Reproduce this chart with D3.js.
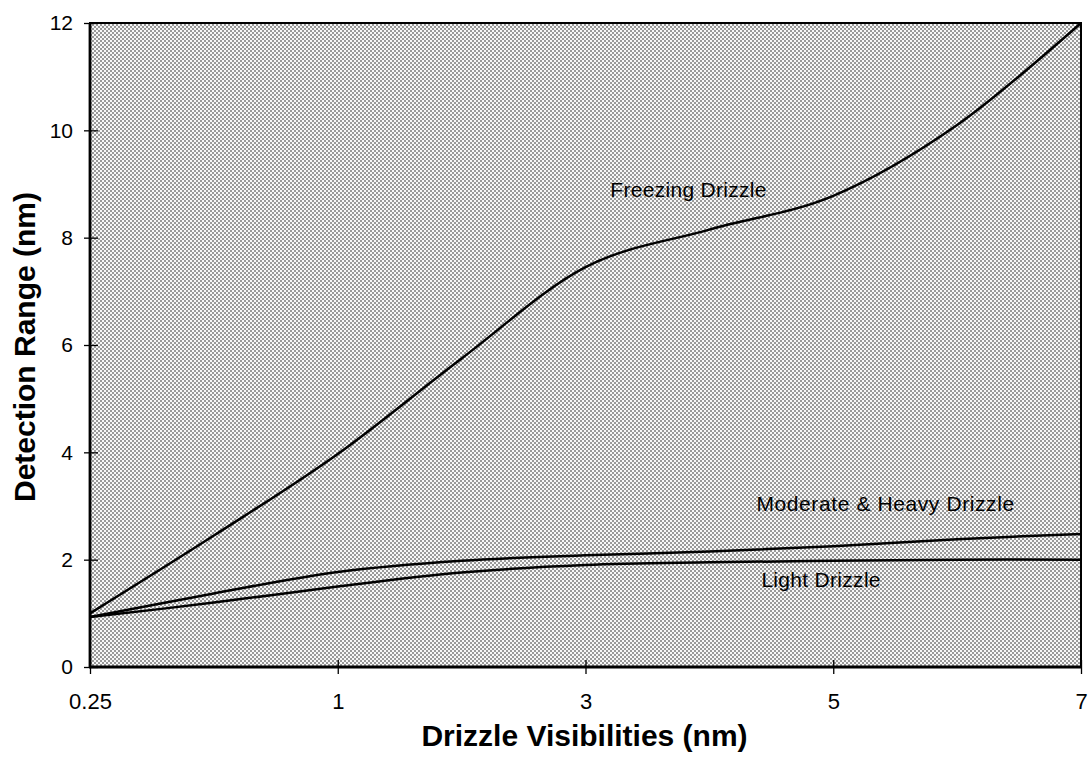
<!DOCTYPE html>
<html>
<head>
<meta charset="utf-8">
<script src="https://cdn.jsdelivr.net/npm/d3@7"></script>
<style>
  html, body { margin: 0; padding: 0; background: #fff; }
  svg { display: block; font-family: "Liberation Sans", Arial, sans-serif; }
</style>
</head>
<body>
<svg id="chart" width="1088" height="757"></svg>
<script>
// ---- data ----
const categories = ["0.25", "0.5", "1", "2", "3", "4", "5", "6", "7"];
const tickLabels = ["0.25", "1", "3", "5", "7"];
const yTicks = [0, 2, 4, 6, 8, 10, 12];
const freezing = [1.0, 2.45, 3.97, 5.75, 7.45, 8.15, 8.78, 10.1, 12.0];
const moderateHeavy = [0.93, 1.37, 1.77, 1.98, 2.08, 2.15, 2.25, 2.38, 2.48];
const light = [0.93, 1.2, 1.5, 1.76, 1.9, 1.95, 1.98, 2.0, 2.0];
const seriesNames = ["Freezing Drizzle", "Moderate & Heavy Drizzle", "Light Drizzle"];
// label anchors: [category index position, value]
const labelAnchors = [[4.2, 8.76], [5.38, 2.9], [5.42, 1.5]];

(function () {
// ---- layout ----
const svg = d3.select("#chart");
const mL = 90, mR = 1081, mT = 23, mB = 667;

const x = d3.scalePoint().domain(categories).range([mL, mR]).padding(0);
const xi = d3.scaleLinear().domain([0, categories.length - 1]).range([mL, mR]);
const y = d3.scaleLinear().domain([0, 12]).range([mB, mT]);

// dotted halftone background pattern
const defs = svg.append("defs");
const pat = defs.append("pattern")
  .attr("id", "dots").attr("patternUnits", "userSpaceOnUse")
  .attr("width", 4).attr("height", 4);
pat.append("rect").attr("width", 4).attr("height", 4).attr("fill", "#f7f7f7");
pat.append("rect").attr("x", 0).attr("y", 0).attr("width", 2).attr("height", 2).attr("fill", "#999999");
pat.append("rect").attr("x", 2).attr("y", 2).attr("width", 2).attr("height", 2).attr("fill", "#999999");

svg.append("rect")
  .attr("x", mL).attr("y", mT)
  .attr("width", mR - mL).attr("height", mB - mT)
  .attr("fill", "url(#dots)")
  .attr("stroke", "#000").attr("stroke-width", 2);

// lines
const line = d3.line()
  .x((d, i) => x(categories[i]))
  .y(d => y(d))
  .curve(d3.curveCardinal.tension(0));

[freezing, moderateHeavy, light].forEach(s => {
  svg.append("path").datum(s)
    .attr("d", line)
    .attr("fill", "none")
    .attr("stroke", "#000")
    .attr("stroke-width", 2.5);
});

// axes
const yAxis = d3.axisLeft(y).tickValues(yTicks).tickSize(6).tickPadding(11).tickFormat(d3.format("d"));
const gy = svg.append("g").attr("transform", `translate(${mL},0)`).call(yAxis);
gy.select(".domain").remove();
gy.selectAll(".tick line").attr("x2", 8).attr("x1", -6).attr("stroke-width", 1.3);
gy.selectAll(".tick text").attr("font-size", 21).attr("fill", "#000")
  .attr("font-family", "'Liberation Sans', Arial, sans-serif");

const xAxis = d3.axisBottom(x).tickValues(tickLabels).tickSize(6).tickPadding(20);
const gx = svg.append("g").attr("transform", `translate(0,${mB})`).call(xAxis);
gx.select(".domain").remove();
gx.selectAll(".tick line").attr("y1", -7).attr("y2", 7).attr("stroke-width", 1.3);
gx.selectAll(".tick text").attr("font-size", 22).attr("fill", "#000")
  .attr("font-family", "'Liberation Sans', Arial, sans-serif");

// heavy axis lines
svg.append("line").attr("x1", mL).attr("x2", mL).attr("y1", mT).attr("y2", mB + 1)
  .attr("stroke", "#000").attr("stroke-width", 2.8);
svg.append("line").attr("x1", mL - 1).attr("x2", mR).attr("y1", mB).attr("y2", mB)
  .attr("stroke", "#000").attr("stroke-width", 2.8);

// series labels
seriesNames.forEach((name, i) => {
  svg.append("text")
    .attr("x", xi(labelAnchors[i][0]))
    .attr("y", y(labelAnchors[i][1]))
    .attr("font-size", 21)
    .attr("letter-spacing", i === 1 ? 0.6 : 0.3)
    .attr("fill", "#000")
    .text(name);
});

// axis titles
svg.append("text")
  .attr("x", (mL + mR) / 2 - 1).attr("y", 746)
  .attr("text-anchor", "middle")
  .attr("font-size", 30).attr("font-weight", "bold")
  .text("Drizzle Visibilities (nm)");

svg.append("text")
  .attr("transform", `translate(35,${(mT + mB) / 2 + 2}) rotate(-90)`)
  .attr("text-anchor", "middle")
  .attr("font-size", 30).attr("font-weight", "bold")
  .text("Detection Range (nm)");
})();
</script>
</body>
</html>
